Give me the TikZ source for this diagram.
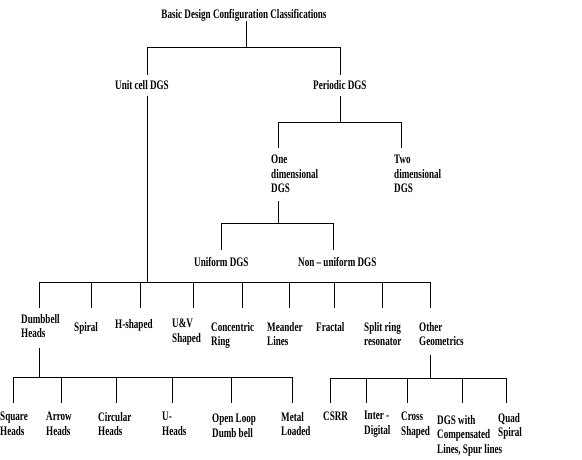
\documentclass[tikz,border=0pt]{standalone}
\usepackage{fontspec}
\setmainfont{Liberation Serif}[FakeStretch=0.70]
\usepackage{tikz}

\begin{document}
\begin{tikzpicture}[x=1pt, y=-1pt,
    lbl/.style={font=\fontsize{13}{14.5}\selectfont\bfseries, align=left, anchor=north west, inner sep=0pt},
    conn/.style={draw=black, line width=0.9pt}]
  \useasboundingbox (0,0) rectangle (582,460);

  % labels
  \node[lbl, anchor=north] (title) at (244,9) {Basic Design Configuration Classifications};
  \node[lbl] (unit) at (115,80) {Unit cell DGS};
  \node[lbl] (per) at (313,80) {Periodic DGS};
  \node[lbl] (one) at (271,155) {One\\dimensional\\DGS};
  \node[lbl] (two) at (394,155) {Two\\dimensional\\DGS};
  \node[lbl] (uni) at (194,257) {Uniform DGS};
  \node[lbl] (non) at (298,257) {Non -- uniform DGS};

  \node[lbl] (dumb) at (21,314) {Dumbbell\\Heads};
  \node[lbl] (spiral) at (74,322) {Spiral};
  \node[lbl] (hsh) at (115,319) {H-shaped};
  \node[lbl] (uv) at (172,319) {U\&V\\Shaped};
  \node[lbl] (conc) at (211,322) {Concentric\\Ring};
  \node[lbl] (mean) at (267,322) {Meander\\Lines};
  \node[lbl] (frac) at (316,322) {Fractal};
  \node[lbl] (split) at (364,322) {Split ring\\resonator};
  \node[lbl] (other) at (419,322) {Other\\Geometrics};

  \node[lbl] (sq) at (0,412) {Square\\Heads};
  \node[lbl] (arrow) at (46,412) {Arrow\\Heads};
  \node[lbl] (circ) at (98,412) {Circular\\Heads};
  \node[lbl] (uh) at (162,412) {U-\\Heads};
  \node[lbl] (open) at (212,414) {Open Loop\\Dumb bell};
  \node[lbl] (metal) at (281,412) {Metal\\Loaded};
  \node[lbl] (csrr) at (323,412) {CSRR};
  \node[lbl] (inter) at (364,411) {Inter -\\Digital};
  \node[lbl] (cross) at (401,412) {Cross\\Shaped};
  \node[lbl] (comp) at (437,415) {DGS with\\Compensated\\Lines, Spur lines};
  \node[lbl] (quad) at (498,413) {Quad\\Spiral};

  % bus points and drop levels
  \coordinate (b0) at (246,47);
  \coordinate (b1) at (340,122);
  \coordinate (b2) at (278,223);
  \coordinate (b3) at (147,282);
  \coordinate (b4) at (39,377);
  \coordinate (b5) at (430,378);
  \coordinate (r1) at (0,75);
  \coordinate (r2) at (0,148);
  \coordinate (r3) at (0,250);
  \coordinate (r4) at (0,308);
  \coordinate (r5) at (0,403);

  % top split
  \draw[conn] ([xshift=2pt]title.south) |- (b0);
  \draw[conn] (b0) -| ([xshift=32pt]unit.north west |- r1);
  \draw[conn] (b0) -| ([xshift=27pt]per.north west |- r1);

  % periodic
  \draw[conn] ([xshift=27pt,yshift=-6pt]per.south west) |- (b1);
  \draw[conn] (b1) -| ([xshift=7pt]one.north west |- r2);
  \draw[conn] (b1) -| ([xshift=7pt]two.north west |- r2);
  \draw[conn] ([xshift=7pt,yshift=-8pt]one.south west) |- (b2);
  \draw[conn] (b2) -| ([xshift=27pt]uni.north west |- r3);
  \draw[conn] (b2) -| ([xshift=35pt]non.north west |- r3);

  % unit cell
  \draw[conn] ([xshift=32pt,yshift=-6pt]unit.south west) |- (b3);
  \foreach \n/\dx in {dumb/18, spiral/17, hsh/25, uv/21, conc/31, mean/22, frac/18, split/18, other/11}
    \draw[conn] (b3) -| ([xshift=\dx pt]\n.north west |- r4);

  % dumbbell heads
  \draw[conn] ([xshift=18pt,yshift=-10pt]dumb.south west) |- (b4);
  \foreach \n/\dx in {sq/13, arrow/15, circ/18, uh/10, open/19, metal/11}
    \draw[conn] (b4) -| ([xshift=\dx pt]\n.north west |- r5);

  % other geometrics
  \draw[conn] ([xshift=11pt,yshift=-9pt]other.south west) |- (b5);
  \foreach \n/\dx in {csrr/7, inter/2, cross/6, comp/25, quad/8}
    \draw[conn] (b5) -| ([xshift=\dx pt]\n.north west |- r5);
\end{tikzpicture}
\end{document}
